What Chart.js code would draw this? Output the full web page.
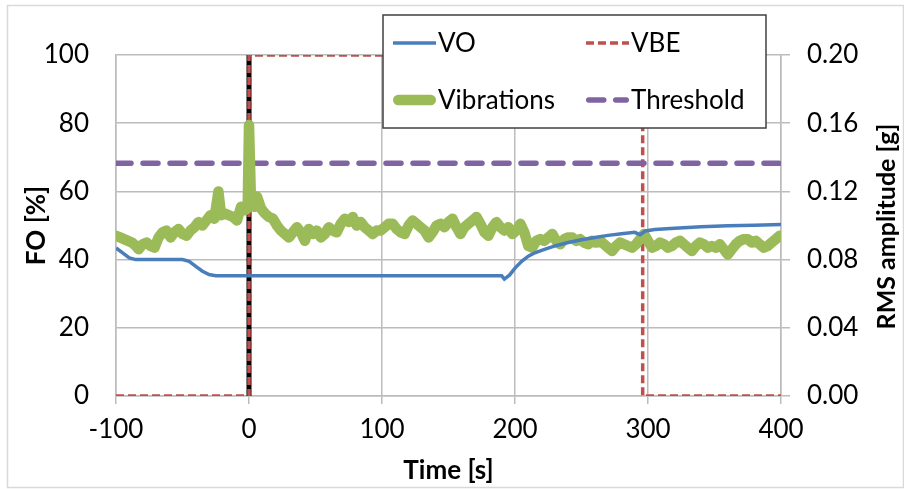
<!DOCTYPE html>
<html>
<head>
<meta charset="utf-8">
<script src="https://cdn.jsdelivr.net/npm/chart.js@4"></script>
<style>
  html, body { margin: 0; padding: 0; background: #fff; }
  #wrap { width: 904px; height: 489px; }
</style>
</head>
<body>
<div id="wrap"><canvas id="foChart" width="904" height="489"></canvas></div>
<script>
// valve opening (left axis, %)
const voTime = [-100, -95, -90, -85, -50, -45, -40, -35, -30, -25, 190, 192, 196, 200, 205, 210, 215, 220, 230, 240, 250, 260, 270, 280, 290, 294, 298, 305, 320, 340, 360, 380, 400];
const voPct  = [43.4, 42.0, 40.5, 40.0, 40.0, 39.5, 38.0, 36.6, 35.6, 35.3, 35.3, 34.3, 35.5, 37.5, 39.5, 41.0, 42.0, 42.7, 44.0, 45.0, 45.8, 46.5, 47.1, 47.6, 48.0, 47.3, 48.4, 48.8, 49.2, 49.6, 49.9, 50.1, 50.3];

// VBE signal (left axis, %)
const vbeTime = [-100, 0, 0, 296, 296, 400];
const vbePct  = [0, 0, 100, 100, 0, 0];

// start marker at t = 0
const startTime = [0, 0];
const startPct  = [0, 100];

// RMS vibration amplitude (right axis, g)
const vibTime = [-100, -97, -94, -91, -88, -85, -83, -80, -77, -74, -71, -68, -65, -62, -59, -56, -53, -50, -47, -44, -41, -38, -35, -32, -29, -26, -23, -21, -18, -15, -12, -9, -6, -3, -1, 0, 1.5, 4, 6, 9, 12, 15, 18, 21, 24, 27, 30, 33, 36, 39, 42, 45, 48, 51, 54, 57, 60, 63, 66, 69, 72, 75, 78, 81, 84, 87, 90, 93, 96, 99, 102, 105, 108, 111, 114, 117, 120, 123, 126, 129, 132, 135, 138, 141, 144, 147, 150, 153, 156, 159, 162, 165, 168, 171, 174, 177, 180, 183, 186, 189, 192, 195, 198, 201, 204, 207, 210, 213, 216, 219, 222, 225, 228, 231, 234, 237, 240, 243, 246, 249, 252, 255, 258, 261, 264, 267, 270, 273, 276, 279, 282, 285, 288, 291, 294, 297, 300, 303, 306, 309, 312, 315, 318, 321, 324, 327, 330, 333, 336, 339, 342, 345, 348, 351, 354, 357, 360, 363, 366, 369, 372, 375, 378, 381, 384, 387, 390, 393, 396, 399];
const vibG = [0.094, 0.093, 0.092, 0.091, 0.090, 0.088, 0.086, 0.089, 0.090, 0.088, 0.087, 0.093, 0.096, 0.097, 0.093, 0.096, 0.098, 0.095, 0.094, 0.097, 0.099, 0.102, 0.100, 0.103, 0.106, 0.104, 0.120, 0.106, 0.107, 0.106, 0.105, 0.103, 0.111, 0.109, 0.110, 0.159, 0.114, 0.111, 0.117, 0.110, 0.107, 0.105, 0.104, 0.100, 0.097, 0.095, 0.093, 0.096, 0.099, 0.096, 0.091, 0.098, 0.095, 0.097, 0.093, 0.095, 0.099, 0.097, 0.096, 0.101, 0.104, 0.102, 0.105, 0.100, 0.102, 0.099, 0.097, 0.095, 0.097, 0.097, 0.099, 0.101, 0.101, 0.098, 0.096, 0.095, 0.100, 0.103, 0.101, 0.099, 0.097, 0.093, 0.096, 0.100, 0.101, 0.099, 0.102, 0.104, 0.099, 0.095, 0.099, 0.101, 0.103, 0.105, 0.101, 0.096, 0.094, 0.099, 0.102, 0.099, 0.097, 0.099, 0.095, 0.097, 0.101, 0.096, 0.088, 0.087, 0.091, 0.092, 0.091, 0.093, 0.095, 0.091, 0.089, 0.092, 0.093, 0.093, 0.091, 0.092, 0.090, 0.089, 0.091, 0.090, 0.091, 0.089, 0.087, 0.085, 0.088, 0.090, 0.089, 0.088, 0.087, 0.089, 0.092, 0.095, 0.091, 0.087, 0.088, 0.090, 0.089, 0.087, 0.088, 0.090, 0.091, 0.089, 0.087, 0.085, 0.088, 0.090, 0.089, 0.087, 0.088, 0.087, 0.089, 0.086, 0.083, 0.086, 0.089, 0.091, 0.092, 0.092, 0.090, 0.091, 0.089, 0.087, 0.088, 0.090, 0.092, 0.094];

// alarm threshold (right axis, g)
const thrTime = [-100, 400];
const thrG    = [0.1365, 0.1365];

const legendOrder = ['VO', 'VBE', 'Vibrations', 'Threshold'];

const FONT = 'Lato';
const GRID = '#bcbcbc';

function pts(xs, ys) {
    return xs.map((x, i) => ({ x: x, y: ys[i] }));
}

// white page with light frame
const framePlugin = {
    id: 'frame',
    beforeDraw(chart) {
        const ctx = chart.ctx;
        ctx.save();
        ctx.fillStyle = '#fff';
        ctx.fillRect(0, 0, chart.width, chart.height);
        ctx.strokeStyle = '#d9d9d9';
        ctx.lineWidth = 1.5;
        ctx.strokeRect(7.5, 5.5, 896, 482);
        ctx.restore();
    }
};

// right axis title reads bottom-to-top like the left one
const rightTitlePlugin = {
    id: 'rightTitle',
    afterDraw(chart) {
        const ctx = chart.ctx;
        const area = chart.chartArea;
        ctx.save();
        ctx.translate(887, (area.top + area.bottom) / 2 + 1);
        ctx.rotate(-Math.PI / 2);
        ctx.font = 'bold 25px ' + FONT;
        ctx.fillStyle = '#000';
        ctx.textAlign = 'center';
        ctx.textBaseline = 'middle';
        ctx.fillText('RMS amplitude [g]', 0, 0);
        ctx.restore();
    }
};

// boxed two-column legend laid over the top of the plot
const boxLegendPlugin = {
    id: 'boxLegend',
    afterDatasetsDraw(chart) {
        const ctx = chart.ctx;
        const box = { left: 383, top: 15, right: 766, bottom: 128 };
        const cols = [393, 586];
        const rows = [43, 100];
        ctx.save();
        ctx.fillStyle = '#fff';
        ctx.fillRect(box.left, box.top, box.right - box.left, box.bottom - box.top);
        ctx.strokeStyle = '#404040';
        ctx.lineWidth = 1.5;
        ctx.strokeRect(box.left, box.top, box.right - box.left, box.bottom - box.top);

        legendOrder.forEach((name, i) => {
            const ds = chart.data.datasets.find(d => d.label === name);
            const x0 = cols[i % 2];
            const y = rows[Math.floor(i / 2)];
            ctx.save();
            ctx.strokeStyle = ds.borderColor;
            ctx.lineWidth = ds.borderWidth;
            ctx.lineCap = ds.borderCapStyle || 'butt';
            ctx.setLineDash(ds.borderDash || []);
            ctx.beginPath();
            const inset = ctx.lineCap === 'round' ? ds.borderWidth / 2 : 0;
            ctx.moveTo(x0 + inset, y);
            ctx.lineTo(x0 + 43 - inset, y);
            ctx.stroke();
            ctx.restore();

            ctx.font = '26px ' + FONT;
            ctx.fillStyle = '#000';
            ctx.textAlign = 'left';
            ctx.textBaseline = 'middle';
            ctx.fillText(name, x0 + 45, y + 1);
        });
        ctx.restore();
    }
};

const tickFont = { family: FONT, size: 26 };
const titleFont = { family: FONT, size: 26, weight: 'bold' };

new Chart(document.getElementById('foChart'), {
    type: 'line',
    data: {
        datasets: [
            {
                label: 'VO',
                data: pts(voTime, voPct),
                yAxisID: 'y',
                borderColor: '#4a7ebb',
                borderWidth: 3.5,
                pointRadius: 0
            },
            {
                label: 'Vibrations',
                data: pts(vibTime, vibG),
                yAxisID: 'y1',
                borderColor: '#9bbb59',
                borderWidth: 10.5,
                borderCapStyle: 'round',
                borderJoinStyle: 'round',
                pointRadius: 0
            },
            {
                label: 'Threshold',
                data: pts(thrTime, thrG),
                yAxisID: 'y1',
                borderColor: '#8064a2',
                borderWidth: 5.5,
                borderDash: [15, 12],
                borderCapStyle: 'round',
                pointRadius: 0
            },
            {
                label: 'VBE',
                data: pts(vbeTime, vbePct),
                yAxisID: 'y',
                borderColor: '#c0504d',
                borderWidth: 3.5,
                borderDash: [8, 4],
                pointRadius: 0
            },
            {
                label: 'Start',
                data: pts(startTime, startPct),
                yAxisID: 'y',
                borderColor: '#000',
                borderWidth: 5,
                pointRadius: 0
            }
        ]
    },
    options: {
        responsive: false,
        animation: false,
        layout: { padding: { top: 55, left: 0, right: 0, bottom: 0 } },
        plugins: {
            legend: { display: false },
            tooltip: { enabled: false }
        },
        scales: {
            x: {
                type: 'linear',
                position: 'bottom',
                min: -100,
                max: 400,
                ticks: { stepSize: 100, font: tickFont, color: '#000', padding: 10, maxRotation: 0 },
                grid: { color: GRID, lineWidth: 1.5, tickLength: 8 },
                border: { display: true, color: GRID, width: 1.5 },
                title: { display: true, text: 'Time [s]', font: titleFont, color: '#000', padding: { top: 0, bottom: 3 } },
                afterFit(scale) { scale.height = 93; }
            },
            y: {
                position: 'left',
                min: 0,
                max: 100,
                ticks: { stepSize: 20, font: tickFont, color: '#000', padding: 27 },
                grid: { color: GRID, lineWidth: 1.5, drawTicks: false },
                border: { display: true, color: GRID, width: 1.5 },
                title: { display: true, text: 'FO [%]', font: titleFont, color: '#000', padding: { top: 21, bottom: 0 } },
                afterFit(scale) { scale.width = 116; }
            },
            y1: {
                position: 'right',
                min: 0,
                max: 0.2,
                ticks: {
                    stepSize: 0.04, font: tickFont, color: '#000', padding: 17,
                    callback: v => v.toFixed(2)
                },
                grid: { color: GRID, lineWidth: 1.5, drawOnChartArea: false, tickLength: 9 },
                border: { display: true, color: GRID, width: 1.5 },
                afterFit(scale) { scale.width = 123; }
            }
        }
    },
    plugins: [framePlugin, boxLegendPlugin, rightTitlePlugin]
});
</script>
</body>
</html>
